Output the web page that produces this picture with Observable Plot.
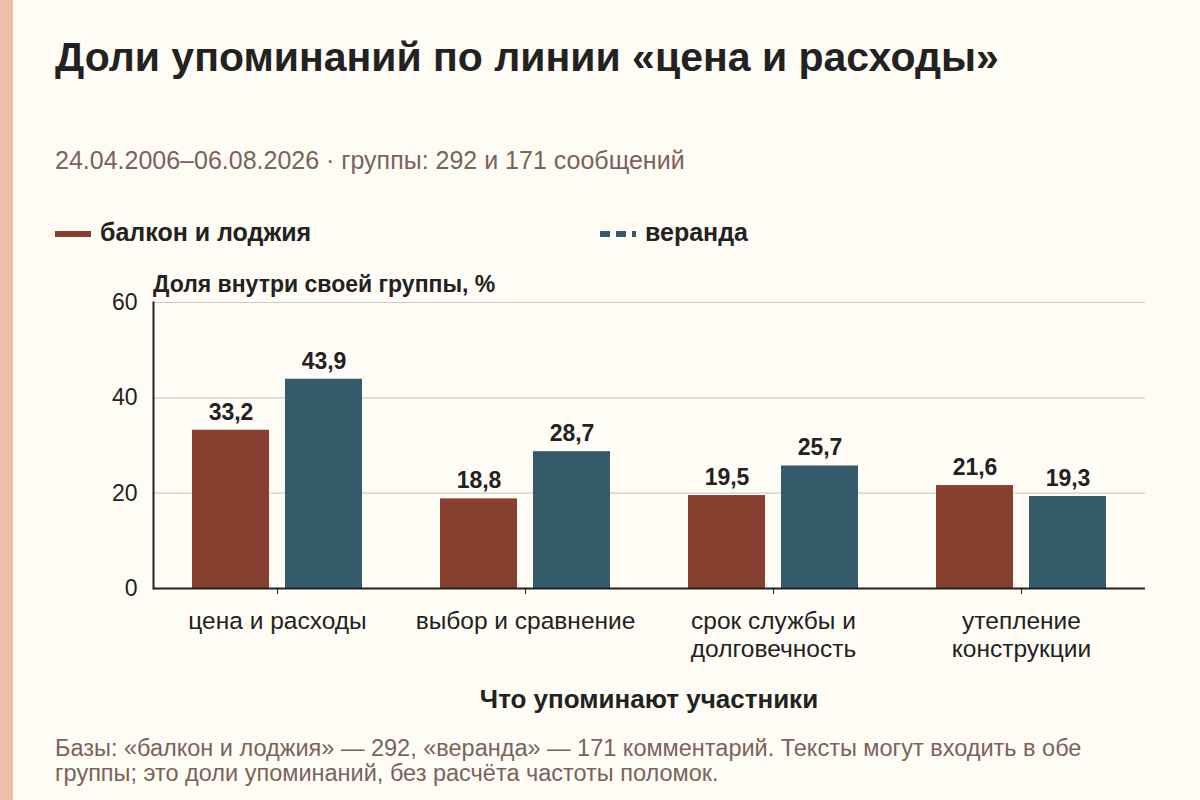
<!DOCTYPE html>
<html lang="ru">
<head>
<meta charset="utf-8">
<script src="https://cdn.jsdelivr.net/npm/d3@7"></script>
<script src="https://cdn.jsdelivr.net/npm/@observablehq/plot@0.6"></script>
<style>
  html, body { margin: 0; padding: 0; }
  body { width: 1200px; height: 800px; background: #fffcf5; position: relative; overflow: hidden;
         font-family: "Liberation Sans", Arial, Helvetica, sans-serif; color: #222; }
  .stripe { position: absolute; left: 0; top: 0; width: 13px; height: 800px; background: #ebc0a7; }
  .abs { position: absolute; white-space: nowrap; }
  #title { left: 55px; top: 34px; font-size: 41px; font-weight: bold; color: #222; }
  #subtitle { left: 55px; top: 146px; font-size: 25px; color: #7a6359; }
  #legend { left: 0; top: 218px; width: 1200px; height: 30px; }
  .item { position: absolute; display: flex; align-items: center; font-size: 25px; font-weight: bold; color: #222; }
  .item svg { margin-right: 9px; }
  #ylabel { left: 153px; top: 271px; font-size: 23px; font-weight: bold; }
  #xlabel { left: 0; width: 1298px; text-align: center; top: 684px; font-size: 26px; font-weight: bold; }
  #caption { left: 55px; top: 736px; font-size: 23.5px; line-height: 25px; color: #7a6359; }
  #chart { position: absolute; left: 0; top: 270px; }
</style>
</head>
<body>
<div class="stripe"></div>
<div id="title" class="abs">Доли упоминаний по линии «цена и расходы»</div>
<div id="subtitle" class="abs">24.04.2006–06.08.2026 · группы: 292 и 171 сообщений</div>
<div id="legend" class="abs"></div>
<div id="ylabel" class="abs">Доля внутри своей группы, %</div>
<div id="chart"></div>
<div id="xlabel" class="abs">Что упоминают участники</div>
<div id="caption" class="abs">Базы: «балкон и лоджия» — 292, «веранда» — 171 комментарий. Тексты могут входить в обе<br>группы; это доли упоминаний, без расчёта частоты поломок.</div>
<script>
const categories = ["цена и расходы", "выбор и сравнение", "срок службы и долговечность", "утепление конструкции"];
const tickLabels = ["цена и расходы", "выбор и сравнение", "срок службы и\nдолговечность", "утепление\nконструкции"];
const series = ["балкон и лоджия", "веранда"];
const balcony = [33.2, 18.8, 19.5, 21.6];
const veranda = [43.9, 28.7, 25.7, 19.3];
const yTicks = [0, 20, 40, 60];
const colors = ["#873f30", "#335b69"];

const data = categories.flatMap((c, i) => [
  {category: c, series: series[0], value: balcony[i]},
  {category: c, series: series[1], value: veranda[i]}
]);

// legend
const legend = document.getElementById("legend");
const legendX = [55, 600];
series.forEach((s, i) => {
  const div = document.createElement("div");
  div.className = "item";
  div.style.left = legendX[i] + "px";
  div.style.top = "0px";
  const dash = i === 1 ? 'stroke-dasharray="10 6"' : "";
  div.innerHTML = `<svg width="36" height="14"><line x1="0" x2="36" y1="8" y2="8" stroke="${colors[i]}" stroke-width="6" ${dash}/></svg><span>${s}</span>`;
  legend.appendChild(div);
});

const chart = Plot.plot({
  width: 1200,
  height: 440,
  marginLeft: 153,
  marginRight: 55,
  marginTop: 32,
  marginBottom: 122,
  style: {background: "transparent", fontFamily: "Liberation Sans, Arial, sans-serif", fontSize: "23px", color: "#222", overflow: "visible"},
  fx: {domain: categories, padding: 0, label: null, axis: null},
  x: {domain: series, paddingInner: 0.172, paddingOuter: 0.419, axis: null},
  y: {domain: [0, 60], label: null, axis: null},
  color: {domain: series, range: colors},
  marks: [
    Plot.gridY(yTicks.slice(1), {stroke: "#cfcbc4", strokeOpacity: 1, strokeWidth: 1.2}),
    Plot.barY(data, {fx: "category", x: "series", y: "value", fill: "series"}),
    Plot.text(data, {fx: "category", x: "series", y: "value",
      text: d => d.value.toFixed(1).replace(".", ","), dy: -18,
      fontWeight: "bold", fontSize: 23, fill: "#222"}),
    Plot.axisY({ticks: yTicks, tickSize: 0, tickPadding: 16, label: null, fontSize: 23, tickFormat: d => String(d)}),
    Plot.axisFx({anchor: "bottom", tickSize: 6, tickPadding: 14, label: null, fontSize: 24.5, lineHeight: 1.15,
      tickFormat: d => tickLabels[categories.indexOf(d)], stroke: "#222"}),
    Plot.frame({anchor: "left", facetAnchor: "left", stroke: "#222", strokeWidth: 2}),
    Plot.ruleY([0], {stroke: "#222", strokeWidth: 2})
  ]
});
document.getElementById("chart").appendChild(chart);
</script>
</body>
</html>
